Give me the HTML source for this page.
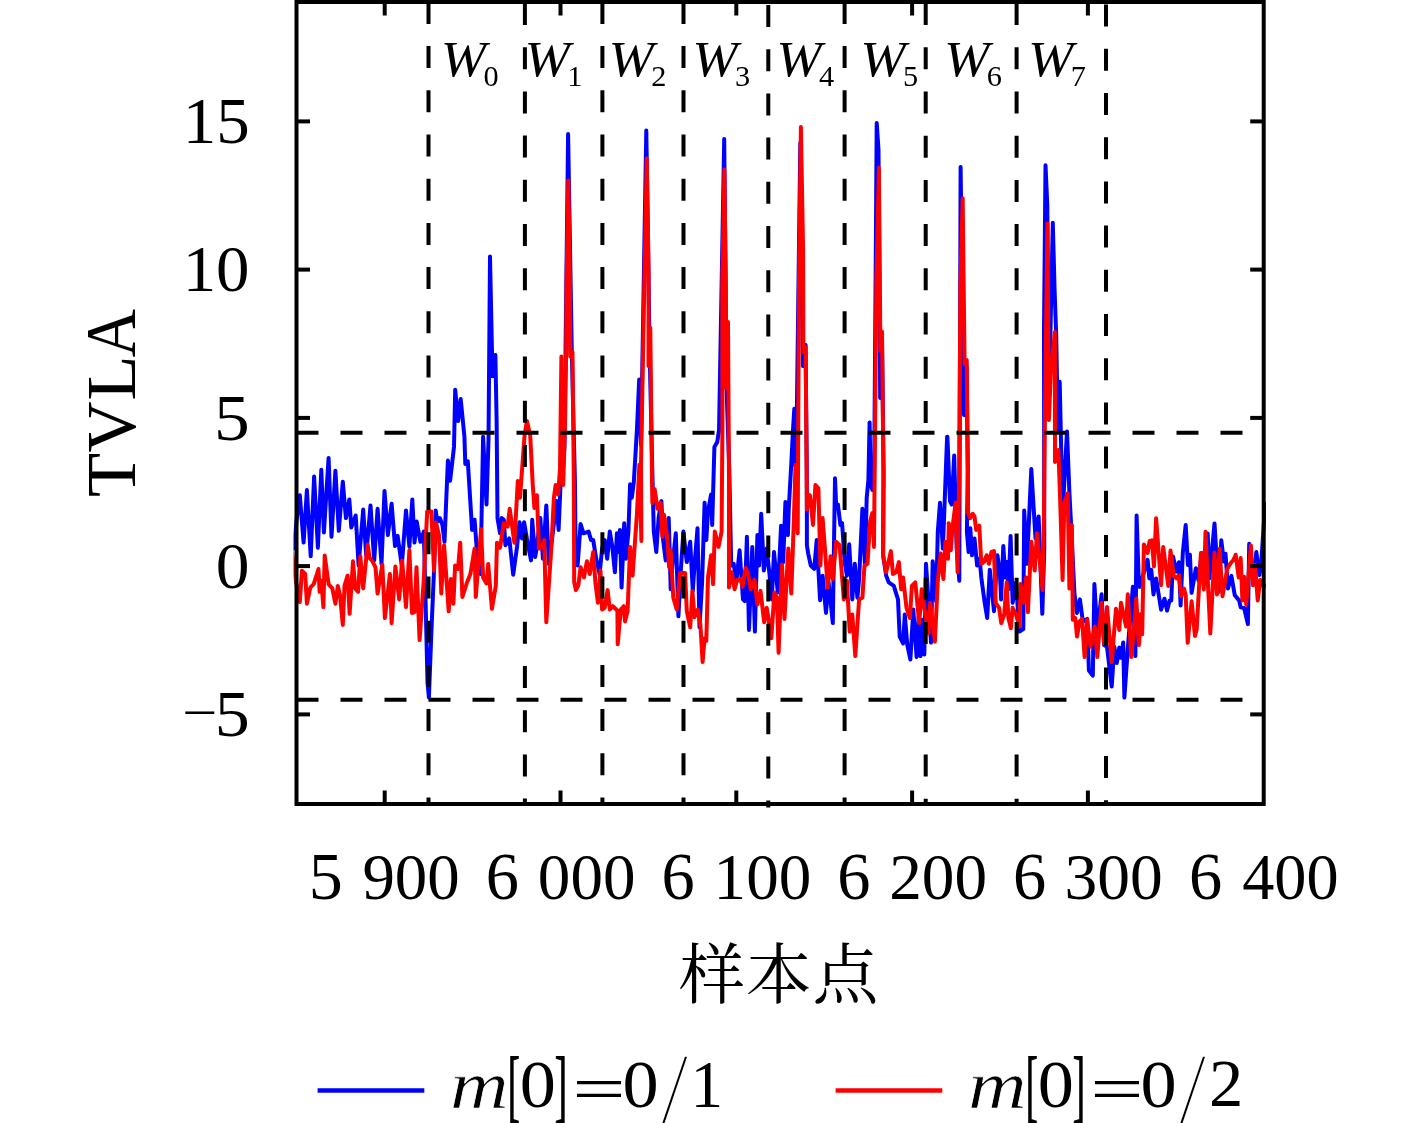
<!DOCTYPE html>
<html lang="zh"><head><meta charset="utf-8"><title>TVLA</title>
<style>
html,body{margin:0;padding:0;background:#fff;}
body{width:1417px;height:1123px;overflow:hidden;}
svg{display:block;}
.t{font-family:"Liberation Serif","Noto Serif CJK SC",serif;fill:#000;}
.i{font-style:italic;}
</style></head><body>
<svg width="1417" height="1123" viewBox="0 0 1417 1123">
<rect width="1417" height="1123" fill="#fff"/>
<g clip-path="url(#c)">
<polyline points="292.0,538.4 293.7,548.6 296.8,518.1 299.8,495.2 303.6,542.6 306.9,490.1 310.7,556.2 314.1,476.6 317.9,547.7 321.3,469.8 323.9,532.5 328.6,457.9 331.5,536.7 335.4,470.7 338.8,530.8 342.8,481.7 345.9,518.1 349.3,499.4 351.3,527.4 355.7,515.5 358.6,565.5 363.2,509.6 366.2,555.3 370.5,505.4 374.2,560.4 377.6,508.8 381.5,563.8 384.5,491.0 387.9,535.0 391.6,503.7 395.0,546.0 397.6,535.9 401.8,565.5 406.0,510.5 409.4,546.9 412.3,499.4 414.5,542.6 416.7,521.5 420.4,541.8 423.8,531.6 425.5,597.7 427.5,682.4 428.9,697.6 431.4,631.6 434.0,570.6 435.7,510.5 437.4,521.5 439.9,518.1 442.4,524.9 444.5,541.8 447.9,460.5 450.1,480.8 454.0,446.9 455.2,389.7 458.1,421.1 460.7,399.1 464.4,436.3 465.3,463.9 467.8,461.3 472.1,529.9 474.6,519.8 478.0,565.5 480.5,574.0 483.1,436.8 486.5,504.5 488.5,440.2 490.0,256.4 492.5,376.2 495.4,355.0 496.6,419.4 497.5,518.1 500.0,533.3 501.7,518.1 503.8,519.8 505.4,545.2 509.3,538.4 513.2,574.8 517.0,546.9 519.5,522.3 522.0,538.4 524.1,522.3 526.3,535.0 526.8,538.4 531.0,560.4 532.2,519.8 535.2,557.0 536.9,546.9 540.3,518.1 542.9,558.7 546.3,505.4 548.8,563.8 553.0,531.6 556.4,501.1 558.6,529.9 560.7,480.8 562.9,470.0 564.4,447.0 568.1,133.9 571.8,352.0 574.9,480.0 575.6,548.6 577.6,565.5 580.6,524.0 583.5,533.3 588.6,531.6 591.1,540.1 593.2,540.1 596.2,558.7 599.6,574.0 602.1,548.6 604.7,540.1 607.2,558.7 609.8,531.6 612.3,546.9 614.9,572.3 616.9,533.3 618.7,552.0 619.9,529.9 621.6,587.5 624.2,523.2 625.9,558.7 628.4,531.6 630.1,484.2 631.8,497.8 633.8,482.5 636.9,430.0 639.2,379.5 641.0,445.0 646.3,130.5 649.7,355.0 652.3,470.0 653.8,531.6 656.3,552.0 658.6,518.1 661.4,501.1 663.1,540.1 665.7,560.4 668.7,518.1 670.7,589.2 672.4,565.5 675.8,533.3 678.4,616.3 680.9,568.9 683.4,531.6 686.8,562.1 690.2,541.8 692.8,590.9 694.5,565.5 697.5,528.2 699.5,627.3 702.1,582.4 704.6,502.8 706.3,540.1 708.0,511.3 711.1,494.4 712.2,524.9 714.4,446.9 717.3,441.9 719.0,430.0 719.0,432.0 724.2,139.0 726.6,390.0 729.3,470.0 731.2,565.5 733.7,563.8 736.3,582.4 739.6,550.3 743.0,599.4 744.7,601.1 746.9,536.7 749.0,629.9 752.3,546.9 754.9,631.6 757.4,535.0 759.1,565.5 761.2,513.8 763.9,570.6 766.7,548.6 769.3,572.3 771.8,599.4 774.0,552.0 777.8,592.6 781.1,525.7 783.2,562.1 785.4,502.0 787.9,535.0 788.8,507.9 791.3,463.9 793.0,430.0 794.3,408.8 795.5,424.9 794.6,465.0 796.3,455.0 800.3,143.0 802.8,366.0 805.6,345.0 806.8,470.0 806.9,545.2 808.2,553.6 810.8,565.5 814.2,568.9 816.7,540.1 820.1,600.2 822.6,575.7 826.0,612.9 828.6,582.4 832.8,623.1 835.0,478.3 836.2,506.2 837.9,504.5 840.4,524.9 842.1,523.2 844.7,562.1 846.9,575.7 849.2,544.3 852.3,599.4 854.8,563.8 857.4,597.7 859.1,579.1 862.4,508.8 865.0,565.5 866.7,497.8 868.4,480.0 869.6,422.4 870.8,485.0 872.5,490.0 874.2,470.0 875.6,280.0 876.7,122.9 878.5,150.0 880.2,398.0 882.0,338.0 883.6,470.0 883.1,555.3 886.2,575.7 888.7,582.4 893.8,585.8 898.0,599.4 899.7,636.6 903.1,643.4 904.8,614.6 907.3,645.1 910.4,659.5 913.3,609.5 916.6,657.0 918.7,616.3 920.5,656.1 922.4,619.7 924.3,654.4 926.0,563.8 928.5,601.1 931.0,642.6 932.7,561.3 936.1,601.1 937.8,531.6 940.0,502.8 942.9,548.6 947.1,436.8 947.4,436.8 950.0,501.1 951.7,504.5 954.2,455.4 956.7,548.6 959.3,580.7 960.6,166.9 964.0,415.0 966.6,366.0 967.8,470.0 966.9,531.6 968.6,552.0 970.3,528.2 972.0,555.3 974.5,538.4 977.1,565.5 979.6,558.7 981.3,577.4 984.7,602.8 987.2,618.0 989.8,569.7 994.0,611.2 997.4,555.3 999.9,572.3 1001.1,599.4 1003.3,546.0 1005.4,577.4 1006.7,562.1 1008.4,589.2 1010.6,535.9 1012.6,602.8 1016.0,582.4 1019.4,631.6 1023.3,629.0 1024.2,510.5 1027.0,563.8 1031.3,469.0 1035.5,538.4 1038.6,516.4 1042.3,613.8 1044.3,548.6 1044.0,330.0 1045.5,165.2 1047.3,205.0 1049.0,400.0 1052.8,222.8 1054.6,290.0 1056.2,335.0 1057.9,430.0 1059.7,381.7 1062.6,514.0 1067.0,431.4 1069.4,492.7 1071.1,524.9 1074.5,594.3 1077.0,612.9 1079.9,599.4 1082.9,621.4 1087.2,618.9 1088.9,670.5 1092.8,675.6 1094.4,584.1 1097.3,631.6 1101.6,594.3 1104.1,645.1 1107.0,646.8 1111.7,686.6 1114.3,646.8 1116.8,662.9 1119.3,647.6 1121.0,657.8 1123.2,642.6 1124.4,697.6 1127.8,648.5 1132.9,586.7 1135.4,656.1 1136.6,515.5 1138.8,582.4 1139.6,586.9 1147.6,559.8 1149.3,578.4 1151.3,569.9 1153.5,594.5 1156.1,578.4 1161.1,609.7 1164.5,598.7 1167.1,610.6 1169.6,600.4 1171.3,600.4 1173.0,556.4 1176.4,571.6 1178.9,562.3 1180.6,605.5 1182.8,553.0 1185.7,525.0 1187.9,564.9 1189.9,554.7 1191.6,592.8 1195.9,568.2 1198.4,580.1 1201.8,553.0 1205.2,578.4 1207.7,533.5 1209.4,578.4 1214.5,523.4 1217.0,564.9 1218.7,592.0 1221.3,540.3 1223.8,561.5 1225.5,553.8 1228.0,588.6 1231.4,575.9 1234.8,595.3 1239.1,600.4 1240.7,607.2 1244.1,608.0 1247.9,624.1 1249.2,543.7 1251.8,564.9 1253.4,578.4 1256.3,552.1 1259.4,575.0 1261.1,564.9 1264.5,514.0 1266.2,503.9" fill="none" stroke="#0000ff" stroke-width="4" stroke-linejoin="round" stroke-linecap="round"/>
<polyline points="292.0,552.0 295.9,580.8 299.8,602.0 301.9,570.7 305.2,574.0 306.9,603.7 310.3,587.6 313.7,584.2 318.5,569.0 319.6,591.8 321.3,580.8 323.4,607.1 324.7,555.4 328.6,584.2 332.3,588.4 335.4,603.7 337.8,585.9 340.0,595.2 342.8,624.9 344.5,585.9 347.6,575.7 349.6,613.8 353.0,561.3 355.2,588.4 358.1,591.8 360.3,556.3 363.2,588.4 367.6,544.4 369.6,557.9 372.5,561.3 375.5,567.3 377.6,593.5 382.3,564.7 384.9,618.1 389.9,574.0 391.6,623.2 395.4,566.4 399.2,599.4 402.1,560.5 406.0,607.1 409.4,550.3 412.0,613.0 414.5,612.1 416.5,567.3 419.6,640.1 423.8,579.1 427.2,511.4 431.4,511.4 434.0,570.7 436.0,522.4 439.1,535.9 441.3,593.5 444.1,545.2 448.7,611.3 450.9,579.1 453.4,603.7 455.1,565.6 458.0,569.0 460.2,542.7 462.4,596.9 467.0,582.5 470.4,574.0 474.6,548.6 475.8,596.9 481.1,529.2 483.1,577.4 486.5,583.4 488.2,563.9 491.9,608.8 495.8,585.9 497.0,542.7 500.0,547.8 503.8,523.2 507.6,526.6 509.7,508.8 514.4,542.7 517.8,480.9 520.0,497.8 524.6,435.1 526.9,421.0 530.2,435.1 532.7,484.2 534.4,507.9 536.9,495.2 539.0,548.6 541.7,546.9 544.2,540.1 546.3,622.2 551.3,548.6 553.9,497.8 555.6,485.0 558.1,494.4 560.0,469.0 561.4,356.6 563.2,485.0 564.9,430.0 566.2,351.0 566.5,285.0 568.3,180.5 569.9,277.0 570.3,356.5 572.5,352.0 573.8,480.0 574.2,582.0 575.9,590.1 578.4,585.0 580.6,567.2 584.0,577.4 586.9,561.3 589.8,574.0 593.2,552.0 595.4,582.4 597.9,602.8 600.5,570.6 602.1,609.5 604.7,607.8 607.6,590.1 609.8,609.5 612.8,606.2 617.4,610.4 617.7,644.3 620.8,609.5 623.7,606.2 625.0,621.4 627.6,611.2 630.1,546.9 632.6,575.7 636.9,514.7 639.4,464.7 641.4,540.9 641.0,465.0 642.9,360.0 644.8,258.0 646.8,158.4 648.6,272.0 648.5,366.0 650.3,328.0 652.0,480.0 652.4,503.0 654.7,489.3 657.5,508.8 660.6,502.8 662.3,536.7 664.0,514.7 667.4,538.4 669.1,567.2 670.7,550.3 673.3,597.7 676.7,609.5 680.1,573.1 685.1,573.1 686.8,611.2 690.2,627.3 692.4,590.9 694.5,617.2 697.8,609.5 700.4,624.8 702.6,662.0 704.6,638.3 706.3,640.9 708.0,577.4 711.1,555.3 713.1,584.1 714.8,531.6 718.5,546.9 721.6,531.6 722.4,430.0 722.3,280.0 724.4,169.4 725.9,290.0 726.0,388.0 728.0,322.0 729.0,480.0 729.0,587.5 731.7,572.3 734.6,589.2 737.1,579.9 740.5,579.1 742.5,586.7 745.6,568.0 748.1,574.0 750.7,589.2 754.4,579.9 757.4,604.5 760.5,590.9 764.2,622.2 766.7,607.8 768.4,618.0 771.3,638.3 774.4,592.6 776.9,597.7 778.6,652.7 782.0,564.7 784.5,618.9 788.3,548.6 791.3,593.4 793.8,521.5 795.5,464.7 797.7,533.3 799.0,280.0 800.9,127.1 803.1,250.0 803.4,352.0 805.6,347.0 806.7,480.0 806.9,509.6 808.2,497.8 809.9,495.2 813.0,524.9 815.4,485.0 818.4,488.4 820.4,565.5 822.6,518.1 825.2,552.0 827.7,587.5 830.6,556.2 832.8,579.1 836.2,541.8 839.6,545.2 843.8,599.4 846.9,580.7 849.7,631.6 852.3,614.6 855.3,656.1 859.1,599.4 862.4,597.7 864.5,565.5 867.5,563.8 870.1,521.5 872.3,513.0 874.0,546.9 874.6,480.0 876.4,280.0 878.9,167.8 880.4,351.0 882.0,331.6 883.5,480.0 883.1,555.3 886.2,572.3 890.9,551.1 892.9,574.0 896.3,572.3 898.9,562.1 901.1,589.2 903.1,577.4 906.5,607.8 909.9,618.0 911.9,585.8 915.3,582.4 919.2,623.1 921.7,589.2 924.3,607.8 928.5,633.3 930.2,602.8 934.9,641.7 937.8,580.7 940.7,553.6 943.4,579.1 945.4,541.8 948.0,558.7 948.8,523.2 948.6,523.2 950.8,550.3 952.8,524.9 955.6,502.8 957.6,572.3 959.1,480.0 960.4,285.0 962.7,198.2 964.6,364.0 966.7,360.0 967.9,480.0 968.1,513.0 970.3,518.1 972.8,513.8 974.5,516.4 976.2,529.9 979.3,525.7 981.3,563.8 983.8,562.1 986.7,555.3 988.9,563.8 991.5,552.0 994.0,551.1 995.7,602.8 999.1,607.8 1001.3,623.1 1004.2,614.6 1006.7,582.4 1008.4,618.0 1010.9,628.2 1012.6,607.8 1016.0,614.6 1019.4,626.5 1020.6,584.1 1023.6,602.8 1026.2,577.4 1027.9,612.1 1031.3,541.8 1034.7,570.6 1036.9,533.3 1039.7,560.4 1042.6,590.1 1044.0,514.7 1044.8,430.0 1047.4,223.6 1048.9,420.0 1051.0,370.0 1054.9,332.0 1055.0,462.0 1058.4,450.0 1060.1,497.8 1062.6,579.9 1064.3,502.8 1067.7,493.5 1069.4,588.4 1071.9,524.9 1072.8,619.7 1075.3,618.0 1077.0,636.6 1079.5,621.4 1082.1,618.9 1084.6,657.0 1087.2,619.7 1090.5,646.8 1094.8,626.5 1097.3,657.0 1101.6,602.8 1104.1,643.4 1107.0,607.0 1111.7,662.0 1116.0,608.7 1119.3,629.9 1121.0,602.8 1126.1,626.5 1127.8,594.3 1131.2,657.0 1134.6,623.1 1136.3,598.5 1138.8,645.1 1139.1,644.5 1140.8,614.0 1142.2,634.3 1143.9,544.5 1147.6,553.0 1149.6,541.1 1151.8,540.3 1154.0,566.5 1156.1,518.3 1161.1,585.2 1163.2,547.1 1168.3,586.0 1170.5,550.5 1173.8,575.9 1176.4,578.4 1178.9,575.0 1181.1,596.2 1184.0,588.6 1185.7,595.3 1187.7,642.8 1191.6,601.3 1195.0,636.0 1196.7,629.2 1200.9,553.0 1203.8,589.4 1205.5,531.8 1210.3,633.4 1214.5,553.0 1217.0,594.5 1219.6,548.8 1222.5,596.2 1227.2,569.1 1230.6,563.2 1233.6,559.8 1235.7,554.7 1238.7,577.6 1240.7,558.1 1242.4,600.4 1244.1,576.7 1246.2,604.7 1250.9,545.4 1252.9,585.2 1255.1,564.9 1257.7,600.4 1260.2,580.1 1263.6,586.9 1266.2,585.2" fill="none" stroke="#ff0000" stroke-width="4" stroke-linejoin="round" stroke-linecap="round"/>
</g>
<defs><clipPath id="c"><rect x="293.5" y="2.0" width="972.5" height="802.0"/></clipPath></defs>
<g stroke="#000" stroke-width="4" stroke-dasharray="22 22.2" fill="none">
<line x1="296.5" y1="432.7" x2="1263.7" y2="432.7" stroke-dasharray="22 22"/>
<line x1="296.5" y1="699.8" x2="1263.7" y2="699.8" stroke-dasharray="22 22"/>
<line x1="428.5" y1="1.9" x2="428.5" y2="804"/>
<line x1="524.9" y1="3" x2="524.9" y2="804"/>
<line x1="602.4" y1="1.9" x2="602.4" y2="804"/>
<line x1="683.5" y1="1.9" x2="683.5" y2="804"/>
<line x1="768.3" y1="5.0" x2="768.3" y2="807.5"/>
<line x1="844.6" y1="1.9" x2="844.6" y2="804"/>
<line x1="925.7" y1="3.1" x2="925.7" y2="804"/>
<line x1="1016.6" y1="3.1" x2="1016.6" y2="804"/>
<line x1="1106" y1="4.6" x2="1106" y2="806"/>
</g>
<rect x="296.5" y="2.0" width="967.2" height="802.0" fill="none" stroke="#000" stroke-width="4"/>
<g stroke="#000" stroke-width="4">
<line x1="384.7" y1="2.0" x2="384.7" y2="15.5"/><line x1="384.7" y1="804.0" x2="384.7" y2="790.5"/>
<line x1="560.5" y1="2.0" x2="560.5" y2="15.5"/><line x1="560.5" y1="804.0" x2="560.5" y2="790.5"/>
<line x1="736.3" y1="2.0" x2="736.3" y2="15.5"/><line x1="736.3" y1="804.0" x2="736.3" y2="790.5"/>
<line x1="912.1" y1="2.0" x2="912.1" y2="15.5"/><line x1="912.1" y1="804.0" x2="912.1" y2="790.5"/>
<line x1="1087.9" y1="2.0" x2="1087.9" y2="15.5"/><line x1="1087.9" y1="804.0" x2="1087.9" y2="790.5"/>
<line x1="296.5" y1="121.4" x2="310.0" y2="121.4"/><line x1="1263.7" y1="121.4" x2="1250.2" y2="121.4"/>
<line x1="296.5" y1="269.6" x2="310.0" y2="269.6"/><line x1="1263.7" y1="269.6" x2="1250.2" y2="269.6"/>
<line x1="296.5" y1="417.9" x2="310.0" y2="417.9"/><line x1="1263.7" y1="417.9" x2="1250.2" y2="417.9"/>
<line x1="296.5" y1="566.1" x2="310.0" y2="566.1"/><line x1="1263.7" y1="566.1" x2="1250.2" y2="566.1"/>
<line x1="296.5" y1="714.4" x2="310.0" y2="714.4"/><line x1="1263.7" y1="714.4" x2="1250.2" y2="714.4"/>
</g>
<text class="t" transform="translate(182.63 143.09) scale(1.0163 1)" font-size="65.97">15</text>
<text class="t" transform="translate(182.65 291.35) scale(1.0210 1)" font-size="65.48">10</text>
<text class="t" transform="translate(214.09 439.59) scale(1.0765 1)" font-size="66.47">5</text>
<text class="t" transform="translate(215.77 587.85) scale(1.0313 1)" font-size="65.48">0</text>
<text class="t" transform="translate(214.77 736.09) scale(1.0541 1)" font-size="66.47">5</text>
<text class="t" transform="translate(181.98 729.99) scale(1.1993 1)" font-size="52.00">−</text>
<text class="t" transform="translate(308.79 899.12) scale(1.0082 1)" font-size="67.52">5</text>
<text class="t" transform="translate(362.39 899.13) scale(0.9745 1)" font-size="66.52">900</text>
<text class="t" transform="translate(485.68 899.13) scale(0.9950 1)" font-size="66.77">6</text>
<text class="t" transform="translate(537.86 899.13) scale(0.9780 1)" font-size="66.52">000</text>
<text class="t" transform="translate(661.48 899.13) scale(0.9950 1)" font-size="66.77">6</text>
<text class="t" transform="translate(713.60 899.13) scale(0.9785 1)" font-size="66.52">100</text>
<text class="t" transform="translate(837.28 899.13) scale(0.9950 1)" font-size="66.77">6</text>
<text class="t" transform="translate(889.13 899.13) scale(0.9814 1)" font-size="66.52">200</text>
<text class="t" transform="translate(1013.08 899.13) scale(0.9950 1)" font-size="66.77">6</text>
<text class="t" transform="translate(1064.59 899.13) scale(0.9849 1)" font-size="66.52">300</text>
<text class="t" transform="translate(1188.88 899.13) scale(0.9950 1)" font-size="66.77">6</text>
<text class="t" transform="translate(1242.21 899.13) scale(0.9661 1)" font-size="66.52">400</text>
<text class="t" transform="translate(135.20 497.06) rotate(-90) scale(1.0372 1)" font-size="69.62">T</text>
<text class="t" transform="translate(135.25 452.51) rotate(-90) scale(1.0166 1)" font-size="69.70">V</text>
<text class="t" transform="translate(135.20 400.53) rotate(-90) scale(1.0612 1)" font-size="69.62">L</text>
<text class="t" transform="translate(135.20 357.57) rotate(-90) scale(0.9303 1)" font-size="72.12">A</text>
<text class="t" x="779.2" y="998.0" font-size="66" text-anchor="middle" letter-spacing="0.8">样本点</text>
<text class="t i" transform="translate(440.66 76.24) scale(1.0727 1)" font-size="50.75">W</text>
<text class="t" x="491.0" y="85.8" font-size="30.3" text-anchor="middle">0</text>
<text class="t i" transform="translate(524.56 76.24) scale(1.0727 1)" font-size="50.75">W</text>
<text class="t" x="574.9" y="85.8" font-size="30.3" text-anchor="middle">1</text>
<text class="t i" transform="translate(608.46 76.24) scale(1.0727 1)" font-size="50.75">W</text>
<text class="t" x="658.8" y="85.8" font-size="30.3" text-anchor="middle">2</text>
<text class="t i" transform="translate(692.36 76.24) scale(1.0727 1)" font-size="50.75">W</text>
<text class="t" x="742.7" y="85.8" font-size="30.3" text-anchor="middle">3</text>
<text class="t i" transform="translate(776.26 76.24) scale(1.0727 1)" font-size="50.75">W</text>
<text class="t" x="826.6" y="85.8" font-size="30.3" text-anchor="middle">4</text>
<text class="t i" transform="translate(860.16 76.24) scale(1.0727 1)" font-size="50.75">W</text>
<text class="t" x="910.5" y="85.8" font-size="30.3" text-anchor="middle">5</text>
<text class="t i" transform="translate(944.06 76.24) scale(1.0727 1)" font-size="50.75">W</text>
<text class="t" x="994.4" y="85.8" font-size="30.3" text-anchor="middle">6</text>
<text class="t i" transform="translate(1027.96 76.24) scale(1.0727 1)" font-size="50.75">W</text>
<text class="t" x="1078.3" y="85.8" font-size="30.3" text-anchor="middle">7</text>
<line x1="317.6" y1="1090.5" x2="424.3" y2="1090.5" stroke="#0000ff" stroke-width="4.4"/>
<line x1="835.6" y1="1090.5" x2="942.3" y2="1090.5" stroke="#ff0000" stroke-width="4.4"/>
<text class="t i" transform="translate(449.96 1107.50) scale(1.2122 1)" font-size="67.02" stroke="#fff" stroke-width="0.80" vector-effect="non-scaling-stroke" stroke-linejoin="miter">m</text>
<text class="t" transform="translate(507.82 1112.22) scale(0.4537 1)" font-size="80.24" stroke="#000" stroke-width="0.90" vector-effect="non-scaling-stroke" stroke-linejoin="miter">[</text>
<text class="t" transform="translate(519.69 1106.62) scale(1.0693 1)" font-size="67.56">0</text>
<text class="t" transform="translate(554.66 1112.22) scale(0.4597 1)" font-size="80.24" stroke="#000" stroke-width="0.90" vector-effect="non-scaling-stroke" stroke-linejoin="miter">]</text>
<text class="t" transform="translate(572.27 1110.18) scale(1.4785 1)" font-size="64.00">=</text>
<text class="t" transform="translate(622.39 1106.62) scale(1.0693 1)" font-size="67.56">0</text>
<text class="t" transform="translate(660.20 1123.75) scale(0.9851 1)" font-size="104.63" stroke="#fff" stroke-width="2.60" vector-effect="non-scaling-stroke" stroke-linejoin="miter">/</text>
<text class="t" transform="translate(690.59 1106.50) scale(0.9699 1)" font-size="67.27">1</text>
<text class="t i" transform="translate(967.96 1107.50) scale(1.2122 1)" font-size="67.02" stroke="#fff" stroke-width="0.80" vector-effect="non-scaling-stroke" stroke-linejoin="miter">m</text>
<text class="t" transform="translate(1025.82 1112.22) scale(0.4537 1)" font-size="80.24" stroke="#000" stroke-width="0.90" vector-effect="non-scaling-stroke" stroke-linejoin="miter">[</text>
<text class="t" transform="translate(1037.69 1106.62) scale(1.0693 1)" font-size="67.56">0</text>
<text class="t" transform="translate(1072.66 1112.22) scale(0.4597 1)" font-size="80.24" stroke="#000" stroke-width="0.90" vector-effect="non-scaling-stroke" stroke-linejoin="miter">]</text>
<text class="t" transform="translate(1090.27 1110.18) scale(1.4785 1)" font-size="64.00">=</text>
<text class="t" transform="translate(1140.39 1106.62) scale(1.0693 1)" font-size="67.56">0</text>
<text class="t" transform="translate(1178.20 1123.75) scale(0.9851 1)" font-size="104.63" stroke="#fff" stroke-width="2.60" vector-effect="non-scaling-stroke" stroke-linejoin="miter">/</text>
<text class="t" transform="translate(1208.99 1106.20) scale(1.0095 1)" font-size="67.92">2</text>
</svg>
</body></html>
